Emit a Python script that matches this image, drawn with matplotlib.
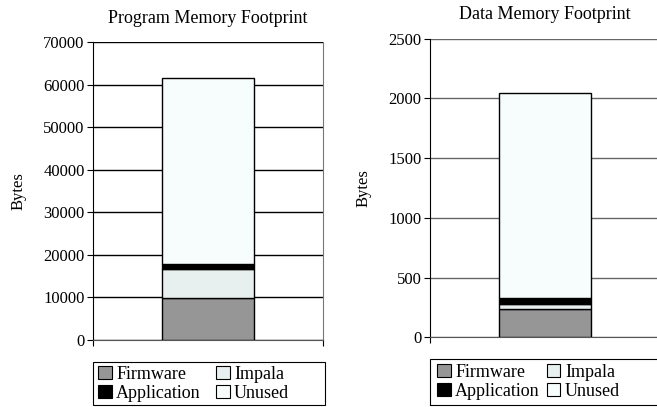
import matplotlib.pyplot as plt
import numpy as np
from matplotlib.patches import Patch, Rectangle

plt.rcParams['font.family'] = ['Liberation Serif', 'DejaVu Serif']

segments = ['Firmware', 'Impala', 'Application', 'Unused']
colors = ['#969696', '#e8efef', '#000000', '#f7fcfc']

program_bytes = [9800, 6900, 1150, 43590]
data_bytes = [235, 45, 45, 1723]

W, H = 657, 407


def draw_stack(ax, values, title, ymax, step, grid_color, pad):
    bottom = 0
    for val, col in zip(values, colors):
        ax.bar(0, val, bottom=bottom, width=0.4, color=col,
               edgecolor='black', linewidth=1.0, zorder=3)
        bottom += val

    ax.set_xlim(-0.5, 0.5)
    ax.set_ylim(0, ymax)
    ax.set_yticks(np.arange(0, ymax + 1, step))
    ax.yaxis.grid(True, color=grid_color, linewidth=1.0, zorder=0)
    ax.set_axisbelow(True)
    ax.set_xticks([-0.5, 0.5])
    ax.set_xticklabels([])
    ax.tick_params(axis='x', length=4, direction='out')
    ax.tick_params(axis='y', length=4, labelsize=12, pad=2)
    ax.set_ylabel('Bytes', fontsize=12, labelpad=pad)
    ax.set_title(title, fontsize=13, pad=14)
    for side in ['top', 'right']:
        ax.spines[side].set_visible(False)
    ax.spines['bottom'].set_color('#555555')


def add_legend(fig, box, anchor, colspace):
    # legend entries without a frame, boxed by a separate rectangle
    handles = [Patch(facecolor=c, edgecolor='black', linewidth=0.8, label=s)
               for s, c in zip(segments, colors)]
    order = [0, 2, 1, 3]
    fig.legend([handles[i] for i in order], [segments[i] for i in order],
               ncol=2, loc='upper left',
               bbox_to_anchor=(anchor[0] / W, 1 - anchor[1] / H),
               fontsize=13, frameon=False,
               handlelength=0.75, handleheight=0.75, handletextpad=0.25,
               columnspacing=colspace, labelspacing=0.1, borderpad=0,
               borderaxespad=0)
    x0, y0, w, h = box
    fig.add_artist(Rectangle((x0 / W, 1 - (y0 + h) / H), w / W, h / H,
                             transform=fig.transFigure, fill=False,
                             edgecolor='black', linewidth=0.8))


fig = plt.figure(figsize=(6.57, 4.07), dpi=100)

ax1 = fig.add_axes([0.1416, 0.1646, 0.35, 0.7322])
draw_stack(ax1, program_bytes, 'Program Memory Footprint', 70000, 10000, 'black', 12)
ax1.spines['right'].set_visible(True)
ax1.spines['right'].set_color('#777777')
ax1.spines['right'].set_linewidth(0.8)

ax2 = fig.add_axes([0.6545, 0.1713, 0.35, 0.7337])
draw_stack(ax2, data_bytes, 'Data Memory Footprint', 2500, 500, '#666666', 12)

add_legend(fig, (93, 362, 232, 43), (98, 366), 0.85)
add_legend(fig, (430, 359, 240, 46), (437, 364), 0.4)

fig.savefig('out.png', dpi=100)
